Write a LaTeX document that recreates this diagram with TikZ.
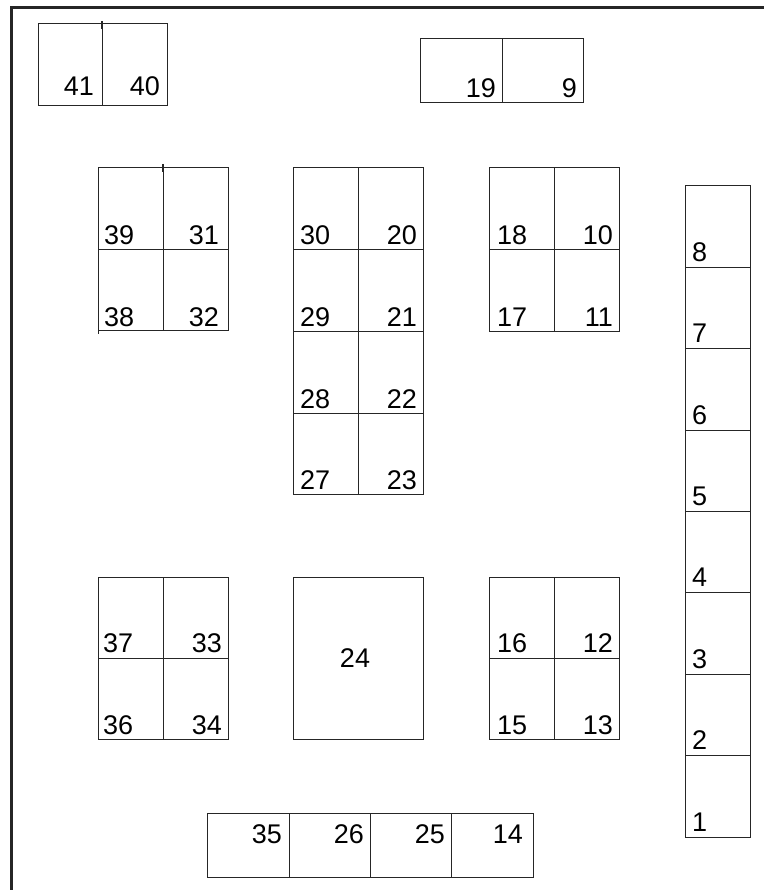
\documentclass[tikz,border=0pt]{standalone}
\usepackage{fontspec}
\setmainfont{Liberation Sans}
\begin{document}
\begin{tikzpicture}[x=1pt,y=-1pt,
  box/.style={draw=black!85,line width=1pt},
  frameline/.style={draw=black!85,line width=3pt},
  tick/.style={draw=black!85,line width=1.6pt},
  lab/.style={inner sep=0pt,font=\fontsize{27}{27}\selectfont},
  bl/.style={lab,anchor=base west},
  br/.style={lab,anchor=base east}]
\useasboundingbox (0,0) rectangle (764,890);
% outer frame (left and top)
\coordinate (fTL) at (11,8);
\coordinate (fBL) at (11,890);
\coordinate (fTR) at (764,8);
\draw[frameline] (fBL) -- (fTL) -- (fTR);

% 41 / 40
\draw[box] (38,24) rectangle (167,106);
\draw[box] (102,24) -- (102,106);
\draw[tick] (102,21) -- (102,29);
\node[br] (n41) at (94,96) {41};
\node[br] (n40) at (160,96) {40};

% 19 / 9
\draw[box] (420,39) rectangle (583,103);
\draw[box] (502,39) -- (502,103);
\node[br] (n19) at (496,98) {19};
\node[br] (n9) at (577,98) {9};

% block 39 31 38 32
\draw[box] (98,168) rectangle (228,330);
\draw[box] (163,168) -- (163,330);
\draw[box] (98,250) -- (228,250);
\draw[tick] (163,164) -- (163,172);
\draw[box] (98,330) -- (98,334);
\node[bl] (n39) at (104,245) {39};
\node[br] (n31) at (219,245) {31};
\node[bl] (n38) at (104,326) {38};
\node[br] (n32) at (219,326) {32};

% block 30..23
\draw[box] (293,168) rectangle (423,494);
\draw[box] (358,168) -- (358,494);
\foreach \yy in {250,331,413} \draw[box] (293,\yy) -- (423,\yy);
\node[bl] (n30) at (300,245) {30};
\node[br] (n20) at (417,245) {20};
\node[bl] (n29) at (300,326) {29};
\node[br] (n21) at (417,326) {21};
\node[bl] (n28) at (300,408) {28};
\node[br] (n22) at (417,408) {22};
\node[bl] (n27) at (300,489) {27};
\node[br] (n23) at (417,489) {23};

% block 18 10 17 11
\draw[box] (489,168) rectangle (619,331);
\draw[box] (554,168) -- (554,331);
\draw[box] (489,250) -- (619,250);
\node[bl] (n18) at (497,245) {18};
\node[br] (n10) at (613,245) {10};
\node[bl] (n17) at (497,326) {17};
\node[br] (n11) at (613,326) {11};

% column 8..1
\draw[box] (685,186) rectangle (750,837);
\foreach \k in {1,...,7} \draw[box] (685,{186+81.375*\k}) -- (750,{186+81.375*\k});
\foreach \k/\t in {1/8,2/7,3/6,4/5,5/4,6/3,7/2,8/1}
  \node[bl] (c\t) at (692,{186+81.375*\k-6}) {\t};

% block 37 33 36 34
\draw[box] (98,577) rectangle (228,739);
\draw[box] (163,577) -- (163,739);
\draw[box] (98,658) -- (228,658);
\node[bl] (n37) at (103,652) {37};
\node[br] (n33) at (222,652) {33};
\node[bl] (n36) at (103,734) {36};
\node[br] (n34) at (222,734) {34};

% 24
\draw[box] (293,577) rectangle (423,739);
\node[lab] (n24) at (355,658) {24};

% block 16 12 15 13
\draw[box] (489,577) rectangle (619,739);
\draw[box] (554,577) -- (554,739);
\draw[box] (489,658) -- (619,658);
\node[bl] (n16) at (497,652) {16};
\node[br] (n12) at (613,652) {12};
\node[bl] (n15) at (497,734) {15};
\node[br] (n13) at (613,734) {13};

% bottom row 35 26 25 14
\draw[box] (207,813) rectangle (533,877);
\foreach \xx in {289,370,451} \draw[box] (\xx,813) -- (\xx,877);
\node[br] (n35) at (282,843) {35};
\node[br] (n26) at (364,843) {26};
\node[br] (n25) at (445,843) {25};
\node[br] (n14) at (523,843) {14};
\end{tikzpicture}
\end{document}
